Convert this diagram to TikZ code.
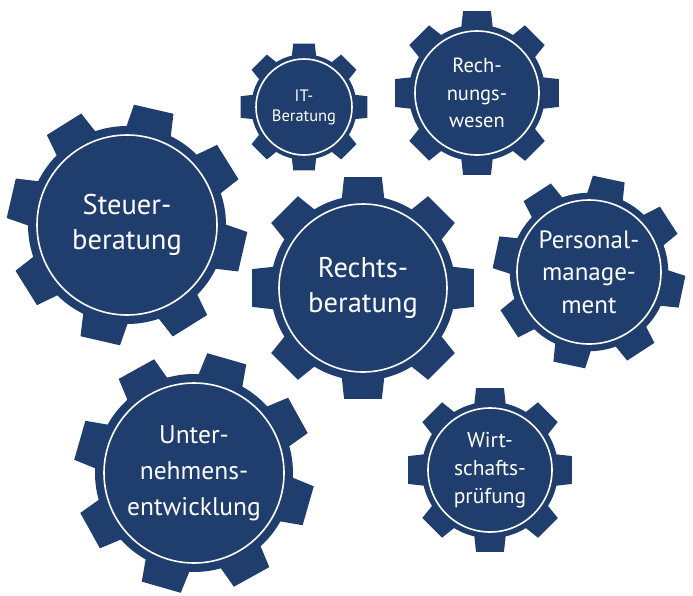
\documentclass[tikz,border=0pt]{standalone}
\usepackage{fontspec}
\setmainfont{PT Sans}
\usepackage{xcolor}
\usepackage{tikz}
\definecolor{gearblue}{HTML}{1F3E6D}

\begin{document}
\begin{tikzpicture}[x=1pt,y=-1pt]
        \tikzstyle{every node}+=[inner sep=0pt]
        \tikzstyle{gear}=[fill=gearblue]
        \tikzstyle{ring}=[draw=white,line width=1.6pt,fill=gearblue]
        \tikzstyle{geartext}=[text=white,align=center]
        \useasboundingbox (0,0) rectangle (693,595);
        % x/y/radius/turn/name/size/line/text
        \foreach \x/\y/\rad/\rot/\nm/\fs/\ls/\txt in {
            127/225/90/32/steuer/28.5/35/{Steuer-\\beratung},
            304/107/48/0/it/16.5/20/{IT-\\Beratung},
            477/93/62/0/rechnung/20.5/27.5/{Rech-\\nungs-\\wesen},
            363/288/84/0/recht/28.5/35/{Rechts-\\beratung},
            589/272/72/33/personal/25/32.5/{Personal-\\manage-\\ment},
            194/473/90/29/unternehmen/25.5/36/{Unter-\\nehmens-\\entwicklung},
            490/470/62/0/wirtschaft/21.5/28/{Wirt-\\schafts-\\prüfung}}
        {
          \fill [gear] (\x,\y) circle (1.1*\rad);
          \foreach \k in {0,...,7}
            \fill [gear, shift={(\x,\y)}, rotate=\rot+45*\k] (\rad,-0.26*\rad) -- (1.32*\rad,-0.225*\rad) -- (1.32*\rad,0.225*\rad) -- (\rad,0.26*\rad) -- cycle;
          \draw [ring] (\x,\y) circle (\rad);
          \node [geartext, font=\fontsize{\fs}{\ls}\selectfont] (\nm) at (\x,\y) {\txt};
        }
\end{tikzpicture}
\end{document}
